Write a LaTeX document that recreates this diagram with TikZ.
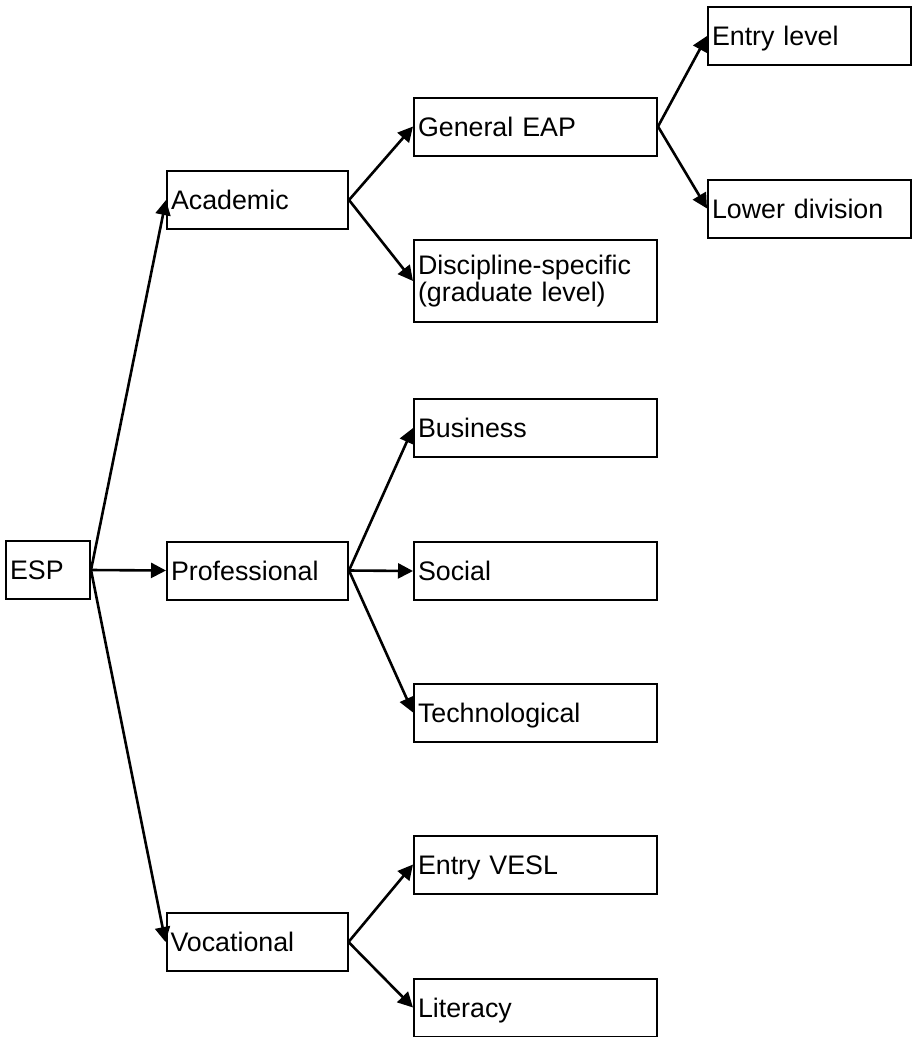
\documentclass[tikz,border=0pt]{standalone}
\usepackage{fontspec}
\setmainfont{Liberation Sans}
\usetikzlibrary{arrows.meta}
\begin{document}
\begin{tikzpicture}[x=1pt,y=-1pt,
  box/.style={draw=black, line width=2pt, rectangle, anchor=center,
    inner xsep=4pt, inner ysep=0pt, align=left,
    font=\fontsize{26.8}{27}\selectfont},
  onel/.style={text height=19.5pt, text depth=0pt},
  lvA/.style={minimum width=181pt, text width=173pt, minimum height=58pt},
  lvB/.style={minimum width=243pt, text width=235pt, minimum height=58pt},
  lvC/.style={minimum width=203pt, text width=195pt, minimum height=58pt},
  link/.style={line width=2.6pt, -{Triangle[length=15pt,width=15pt]}}]
\useasboundingbox (0,0) rectangle (912,1037);

% root
\node[box, onel, minimum width=84pt, text width=76pt, minimum height=58pt] (esp) at (48,570) {ESP};

% second level
\node[box, onel, lvA] (acad) at (257.5,200) {Academic};
\node[box, onel, lvA] (prof) at (257.5,570.5) {Professional};
\node[box, onel, lvA] (voc) at (257,942) {Vocational};

% third level
\node[box, onel, lvB] (geap) at (535.5,126.5) {General EAP};
\node[box, lvB, minimum height=82pt] (disc) at (535.5,281) {\raisebox{0pt}[19.5pt][0pt]{}Discipline-specific\\(graduate level)};
\node[box, onel, lvB] (bus) at (535.5,428) {Business};
\node[box, onel, lvB] (soc) at (535.5,571) {Social};
\node[box, onel, lvB] (tech) at (535.5,712.5) {Technological};
\node[box, onel, lvB] (vesl) at (535.5,864.5) {Entry VESL};
\node[box, onel, lvB] (lit) at (535.5,1007.5) {Literacy};

% fourth level
\node[box, onel, lvC] (entry) at (809.5,36) {Entry level};
\node[box, onel, lvC] (lower) at (809.5,208.5) {Lower division};

% connectors
\draw[link] (esp.east) -- (acad.west);
\draw[link] (esp.east) -- (prof.west);
\draw[link] (esp.east) -- (voc.west);
\draw[link] (acad.east) -- (geap.west);
\draw[link] (acad.east) -- (disc.west);
\draw[link] (geap.east) -- (entry.west);
\draw[link] (geap.east) -- (lower.west);
\draw[link] (prof.east) -- (bus.west);
\draw[link] (prof.east) -- (soc.west);
\draw[link] (prof.east) -- (tech.west);
\draw[link] (voc.east) -- (vesl.west);
\draw[link] (voc.east) -- (lit.west);
\end{tikzpicture}
\end{document}
